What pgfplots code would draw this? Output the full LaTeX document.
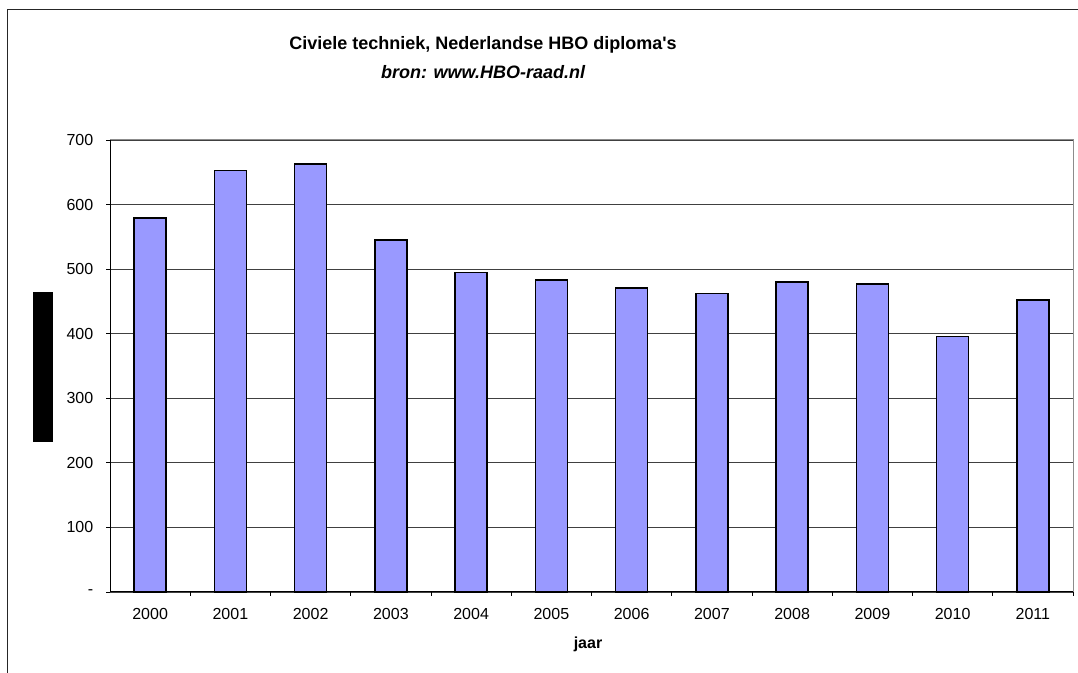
\documentclass[border=0pt]{standalone}
\usepackage{pgfplots}
\pgfplotsset{compat=1.18}
\usepackage{fontspec}
\setmainfont{Liberation Sans}[Ligatures=TeXOff]
\definecolor{barfill}{RGB}{153,153,255}
\definecolor{gridc}{RGB}{64,64,64}
\definecolor{framec}{RGB}{140,140,140}
\begin{document}
\begin{tikzpicture}[x=0.75pt,y=0.75pt]
\useasboundingbox (0,0) rectangle (1078,673);
\clip (0,0) rectangle (1078,673);
\fill[white] (0,0) rectangle (1078,673);
\draw[line width=0.75pt, black!85] (7,-10) -- (7,663) -- (1090,663);
\node[font=\fontsize{13.5}{16}\selectfont\bfseries] at (483,628) {Civiele techniek, Nederlandse HBO diploma's};
\node[font=\fontsize{13.5}{16}\selectfont\bfseries\itshape] at (483,601) {bron: www.HBO-raad.nl};
\fill[black] (33,231) rectangle (53,381);
\node[font=\fontsize{12}{14}\selectfont\bfseries] at (588,29) {jaar};
\begin{axis}[
  at={(82.5pt,60.75pt)}, anchor=south west, scale only axis,
  width=722.25pt, height=339pt,
  ymin=0, ymax=700, xmin=-0.5, xmax=11.5,
  axis lines=box,
  axis line style={framec, line width=0.75pt},
  ybar, bar width=24pt,
  ytick={0,100,...,700},
  yticklabels={-,100,200,300,400,500,600,700},
  xtick={0,...,11},
  xticklabels={2000,2001,2002,2003,2004,2005,2006,2007,2008,2009,2010,2011},
  minor xtick={0.5,1.5,...,11.5},
  major x tick style={draw=none},
  tick align=outside,
  major tick length=3pt, minor tick length=3pt,
  tick style={black, line width=0.6pt},
  xtick pos=bottom, ytick pos=left,
  ymajorgrids, grid style={gridc, line width=0.6pt},
  ticklabel style={font=\fontsize{12}{14}\selectfont},
  yticklabel style={xshift=-6pt},
  xticklabel style={yshift=-6pt},
  clip=false,
]
\addplot[draw=black, line width=1.1pt, fill=barfill] coordinates {
  (0,579) (1,653) (2,663) (3,545) (4,495) (5,483)
  (6,471) (7,462) (8,480) (9,477) (10,396) (11,452)
};
\draw[black, line width=0.75pt] (rel axis cs:0,1) -- (rel axis cs:0,0) -- (rel axis cs:1,0);
\end{axis}
\end{tikzpicture}
\end{document}
